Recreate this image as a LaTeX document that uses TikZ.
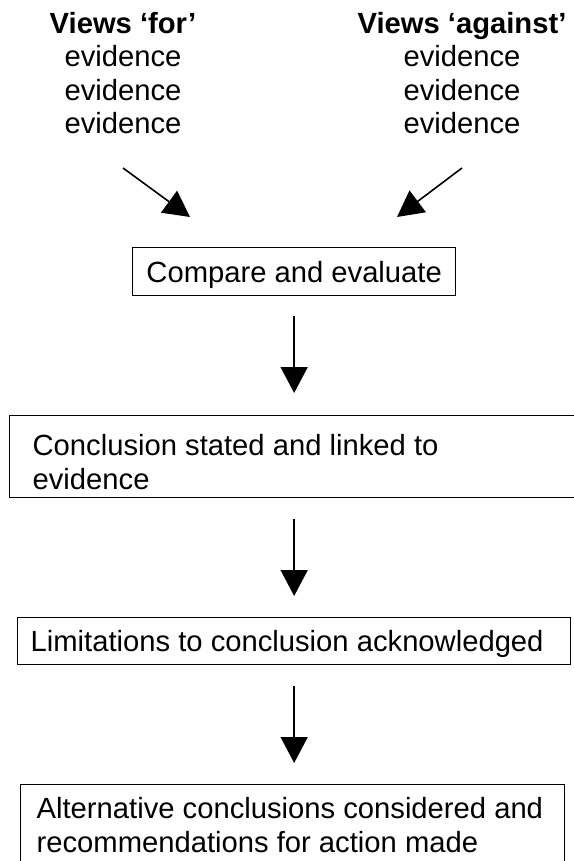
\documentclass[tikz,border=0pt]{standalone}
\usepackage{fontspec}
\setmainfont{Liberation Sans}
\usetikzlibrary{arrows.meta}
\tikzset{
  txt/.style={inner sep=0pt, font=\fontsize{29.2}{33.5}\selectfont},
  box/.style={txt, draw, line width=1.3pt, anchor=north west, inner ysep=0pt},
  arr/.style={line width=1.6pt, -{Triangle[length=26pt,width=27pt]}}
}
\begin{document}
\begin{tikzpicture}[x=1pt,y=-1pt]
\useasboundingbox (0,0) rectangle (573,861);
% header columns
\node[txt, anchor=base] (vf) at (123,33.5)
  {\begin{tabular}[t]{@{}c@{}}\textbf{Views ‘for’}\\evidence\\evidence\\evidence\end{tabular}};
\node[txt, anchor=base] (va) at (462,33.5)
  {\begin{tabular}[t]{@{}c@{}}\textbf{Views ‘against’}\\evidence\\evidence\\evidence\end{tabular}};
% boxes
\node[box, minimum width=323pt, text height=35pt, text depth=13pt] (b1) at (132,247)
  {Compare and evaluate};
\node[box, inner xsep=23pt, text height=40pt, text depth=42pt] (b2) at (9,415)
  {\parbox[t]{523pt}{\mbox{Conclusion stated and linked to}\\\mbox{evidence}}};
\node[box, inner xsep=13pt, text height=34pt, text depth=13pt] (b3) at (17,617)
  {\parbox[t]{527pt}{\mbox{Limitations to conclusion acknowledged}}};
\node[box, inner xsep=16pt, text height=34pt, text depth=52pt] (b4) at (20,784)
  {\parbox[t]{512pt}{\mbox{Alternative conclusions considered and}\\\mbox{recommendations for action made}}};
% arrow ends
\coordinate (vfs) at (123,168);
\coordinate (vft) at (190,217);
\coordinate (vas) at (462,168);
\coordinate (vat) at (397,217);
\draw[arr] (vfs) -- (vft);
\draw[arr] (vas) -- (vat);
\draw[arr, shorten <=20pt, shorten >=22pt] (b1.south) -- (b1.south |- b2.north);
\draw[arr, shorten <=21pt, shorten >=21pt] (b1.south |- b2.south) -- (b1.south |- b3.north);
\draw[arr, shorten <=21pt, shorten >=21pt] (b1.south |- b3.south) -- (b1.south |- b4.north);
\end{tikzpicture}
\end{document}
